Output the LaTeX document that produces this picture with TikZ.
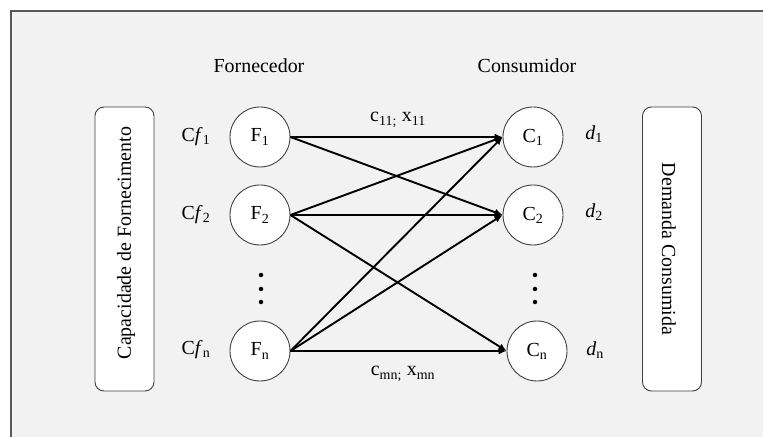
\documentclass[tikz,border=0pt]{standalone}
\usepackage{fontspec}
\setmainfont{Liberation Serif}
\usetikzlibrary{arrows.meta}
\definecolor{panel}{HTML}{F2F2F2}
\definecolor{framecol}{HTML}{5A5A5A}
\definecolor{ink}{HTML}{404040}
\begin{document}
\begin{tikzpicture}[x=1bp,y=-1bp,
  font=\fontsize{20}{24}\selectfont,
  party/.style={circle,draw=ink,fill=white,line width=0.9bp,minimum size=60bp,inner sep=0pt},
  sidebox/.style={draw=ink,fill=white,rounded corners=9bp,line width=0.9bp,
    minimum width=59bp,minimum height=284bp,inner sep=0pt},
  flow/.style={line width=1.9bp,-{Latex[length=8bp,width=7bp]}},
  dotmark/.style={circle,fill=black,inner sep=0pt,minimum size=4.5bp},
  tag/.style={inner sep=0pt}]
\useasboundingbox (0,0) rectangle (763,437);
\fill[white] (0,0) rectangle (763,437);
% outer panel, running off the right and bottom edges
\begin{scope}
  \clip (0,0) rectangle (763,437);
  \draw[draw=framecol,fill=panel,line width=1.3bp] (11,11) rectangle (800,480);
\end{scope}

% column headings
\node[tag,anchor=base] (hF) at (259,73) {Fornecedor};
\node[tag,anchor=base] (hC) at (527,73) {Consumidor};

% side boxes
\node[sidebox] (cap) at (124.5,249) {};
\node[tag,rotate=90] (capt) at (126,243) {Capacidade de Fornecimento};
\node[sidebox] (dem) at (672,249) {};
\node[tag,rotate=-90] (demt) at (669,249) {Demanda Consumida};

% suppliers
\node[party] (F1) at (260,137) {F\textsubscript{1}};
\node[party] (F2) at (260,215) {F\textsubscript{2}};
\node[party] (Fn) at (260,351) {F\textsubscript{n}};
% consumers
\node[party] (C1) at (533,137) {C\textsubscript{1}};
\node[party] (C2) at (533,215) {C\textsubscript{2}};
\node[party] (Cn) at (537,351) {C\textsubscript{n}};

% vertical ellipses
\node[dotmark] (fd1) at (261,275) {};
\node[dotmark] (fd2) at (261,289) {};
\node[dotmark] (fd3) at (261,302) {};
\node[dotmark] (cd1) at (535,275) {};
\node[dotmark] (cd2) at (535,289) {};
\node[dotmark] (cd3) at (535,302) {};

% capacities and demands
\node[tag] (cf1) at (196,137) {C\textit{f}\textsubscript{1}};
\node[tag] (cf2) at (196,215) {C\textit{f}\textsubscript{2}};
\node[tag] (cfn) at (196,350) {C\textit{f}\textsubscript{n}};
\node[tag] (d1) at (594,134) {\textit{d}\textsubscript{1}};
\node[tag] (d2) at (594,212) {\textit{d}\textsubscript{2}};
\node[tag] (dn) at (595,350) {\textit{d}\textsubscript{n}};

% transport links
\draw[flow] (F1.east) -- (C1.west);
\draw[flow] (F1.east) -- (C2.west);
\draw[flow] (F2.east) -- (C1.west);
\draw[flow] (F2.east) -- (C2.west);
\draw[flow] (F2.east) -- (Cn.west);
\draw[flow] (Fn.east) -- (C1.west);
\draw[flow] (Fn.east) -- (C2.west);
\draw[flow] (Fn.east) -- (Cn.west);

% link labels
\node[tag,anchor=base] (l11) at (398,122) {c\textsubscript{11;} x\textsubscript{11}};
\node[tag,anchor=base] (lmn) at (403,376) {c\textsubscript{mn;} x\textsubscript{mn}};
\end{tikzpicture}
\end{document}
